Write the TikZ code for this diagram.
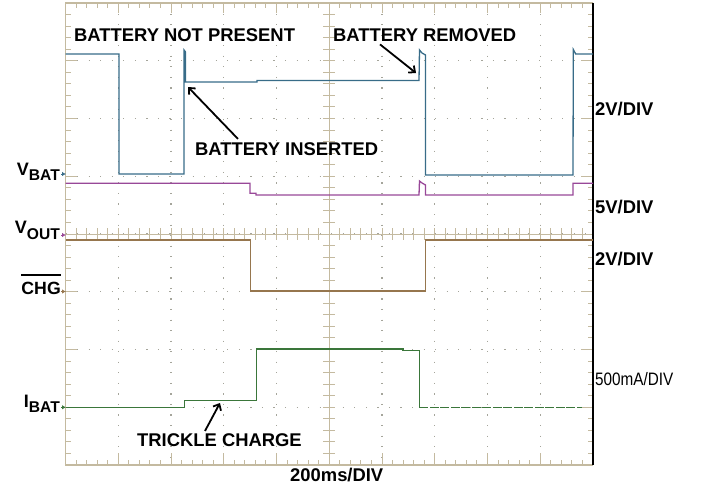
\documentclass[tikz,border=0pt]{standalone}
\usepackage{fontspec}
\setmainfont{Liberation Sans}
\usetikzlibrary{arrows.meta,calc}
\definecolor{gridtan}{RGB}{196,186,160}
\definecolor{griddot}{RGB}{165,165,155}
\definecolor{tracebat}{RGB}{56,108,136}
\definecolor{traceout}{RGB}{152,72,152}
\definecolor{tracechg}{RGB}{150,118,78}
\definecolor{traceibat}{RGB}{58,118,58}
\tikzset{
  lbl/.style={font=\fontsize{18.4}{20}\selectfont\bfseries, inner sep=0pt, anchor=base west},
  chlbl/.style={font=\fontsize{18}{20}\selectfont\bfseries, inner sep=0pt, anchor=base east},
  trace/.style={line width=1.3pt},
  pointer/.style={line width=1.8pt, -{Straight Barb[length=5pt,width=9pt]}},
  chmark/.style={line width=1pt, -{Latex[length=4pt,width=4.5pt]}},
  dotline/.style={griddot, line width=1.2pt, dash pattern=on 1.2pt off 9.35pt}
}
\begin{document}
\begin{tikzpicture}[x=1pt,y=-1pt]
	\useasboundingbox (0,0) rectangle (701,487);
	% grid
	\foreach \i in {1,...,9}
		\draw[dotline] (65.5+52.75*\i,3) -- (65.5+52.75*\i,465);
	\foreach \j in {1,...,7}
		\draw[dotline,dash pattern=on 1.2pt off 10.35pt] (65.5,3+57.75*\j) -- (593,3+57.75*\j);
	\draw[gridtan,line width=1.2pt] (593,3) -- (65.5,3) -- (65.5,465) -- (593,465);
	\draw[gridtan,line width=1pt] (65.5,234) -- (593,234);
	\draw[gridtan,line width=1pt] (329.25,3) -- (329.25,465);
	\foreach \i in {1,...,49} {
		\draw[gridtan,line width=1pt] (65.5+10.55*\i,3) -- (65.5+10.55*\i,8);
		\draw[gridtan,line width=1pt] (65.5+10.55*\i,465) -- (65.5+10.55*\i,460);
		\draw[gridtan,line width=1pt] (65.5+10.55*\i,228) -- (65.5+10.55*\i,240);
	}
	\foreach \j in {1,...,39} {
		\draw[gridtan,line width=1pt] (65.5,3+11.55*\j) -- (71,3+11.55*\j);
		\draw[gridtan,line width=1pt] (593,3+11.55*\j) -- (587.5,3+11.55*\j);
		\draw[gridtan,line width=1pt] (323.25,3+11.55*\j) -- (335.25,3+11.55*\j);
	}
	\foreach \i in {1,...,9} {
		\draw[gridtan,line width=1pt] (65.5+52.75*\i,3) -- (65.5+52.75*\i,13);
		\draw[gridtan,line width=1pt] (65.5+52.75*\i,465) -- (65.5+52.75*\i,453);
	}
	\foreach \j in {1,...,7} {
		\draw[gridtan,line width=1pt] (65.5,3+57.75*\j) -- (77,3+57.75*\j);
		\draw[gridtan,line width=1pt] (593,3+57.75*\j) -- (581,3+57.75*\j);
	}
	\draw[black,line width=1.3pt] (593,3) -- (593,465);
	% traces
	\draw[trace,tracebat] (65.5,54) -- (119,54) -- (119,174) -- (184,174) -- (184,50)
		-- (185.5,52) -- (185.5,82) -- (257,82) -- (257,80.5) -- (419,80.5) -- (419.5,50)
		-- (422,53) -- (425.5,55) -- (425.5,175) -- (573,175) -- (573.3,49.5) -- (575.7,54) -- (593,54);
	\draw[trace,traceout] (65.5,183.3) -- (250,183.3) -- (250,193.3) -- (256,193.3) -- (256,195)
		-- (419,195) -- (419.5,181) -- (422,183) -- (425.5,185) -- (425.5,195) -- (573,195)
		-- (573,183.3) -- (593,183.3);
	\draw[trace,tracechg] (65.5,240) -- (250.7,240) -- (250.7,291) -- (425.7,291) -- (425.7,240) -- (593,240);
	\draw[trace,traceibat] (65.5,407.3) -- (184.3,407.3) -- (184.3,400.3) -- (256.7,400.3) -- (256.7,349)
		-- (403,349) -- (403,350.5) -- (419.3,350.5) -- (419.3,407.3);
	\draw[trace,traceibat,dash pattern=on 9pt off 1.5pt] (419.3,407.3) -- (581.7,407.3);
	% channel labels
	\node[chlbl] (vbatLbl) at (60,175) {V\raisebox{-5pt}{\fontsize{15.6}{16}\selectfont BAT}};
	\node[chlbl] (voutLbl) at (60,233) {V\raisebox{-6pt}{\fontsize{15.6}{16}\selectfont OUT}};
	\node[chlbl,font=\fontsize{17.7}{20}\selectfont\bfseries] (chgLbl) at (61,294.3) {CHG};
	\draw[line width=1.7pt] ($(chgLbl.north west)+(0,-7)$) -- ($(chgLbl.north east)+(0,-7)$);
	\node[chlbl] (ibatLbl) at (60,407) {I\raisebox{-5pt}{\fontsize{15.6}{16}\selectfont BAT}};
	\coordinate (vbatRef) at (66,174);
	\coordinate (voutRef) at (66,235);
	\coordinate (chgRef) at (66,291.5);
	\coordinate (ibatRef) at (66,407.3);
	\draw[chmark,tracebat] ($(vbatRef)+(-5,0)$) -- (vbatRef);
	\draw[chmark,traceout] ($(voutRef)+(-5,0)$) -- (voutRef);
	\draw[chmark,tracechg] ($(chgRef)+(-5,0)$) -- (chgRef);
	\draw[chmark,traceibat] ($(ibatRef)+(-5,0)$) -- (ibatRef);
	% scale labels
	\node[lbl] (scaleBat) at (595,115) {2V/DIV};
	\node[lbl] (scaleOut) at (595,213.3) {5V/DIV};
	\node[lbl] (scaleChg) at (595,265) {2V/DIV};
	\node[lbl,font=\fontsize{18}{20}\selectfont] (scaleIbat) at (595,385.7) {\scalebox{0.85}[1]{500mA/DIV}};
	\node[lbl] (timeLbl) at (290,481.7) {200ms/DIV};
	% annotations
	\node[lbl] (notPresent) at (74,41.5) {BATTERY NOT PRESENT};
	\node[lbl] (removed) at (333,42) {BATTERY REMOVED};
	\node[lbl] (inserted) at (195,155) {BATTERY INSERTED};
	\node[lbl] (trickle) at (137,446) {TRICKLE CHARGE};
	\coordinate (insTip) at (188,87);
	\coordinate (remTip) at (416,73);
	\coordinate (trkTip) at (220,403);
	\draw[pointer] ($(inserted.north west)+(43,-3)$) -- (insTip);
	\draw[pointer] ($(removed.south west)+(47,2)$) -- (remTip);
	\draw[pointer] ($(trickle.north west)+(68,-2)$) -- (trkTip);
\end{tikzpicture}
\end{document}
